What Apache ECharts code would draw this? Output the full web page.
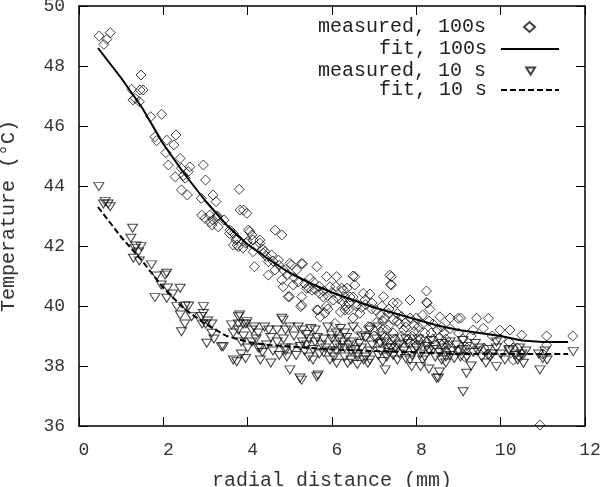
<!DOCTYPE html>
<html>
<head>
<meta charset="utf-8">
<script src="https://cdn.jsdelivr.net/npm/echarts@6/dist/echarts.min.js"></script>
<style>html,body{margin:0;padding:0;background:#fff}#c{width:602px;height:487px}</style>
</head>
<body>
<div id="c"></div>
<script>
// ---- data ----
const xTicks = [0, 2, 4, 6, 8, 10, 12];
const yTicks = [36, 38, 40, 42, 44, 46, 48, 50];
const seriesNames = ['measured, 100s', 'fit, 100s', 'measured, 10 s', 'fit, 10 s'];

const measured100s = [
[0.48,49.0],[0.59,48.72],[0.66,48.89],[0.74,49.11],
[1.47,47.7],[1.25,47.22],[1.33,46.92],[1.45,47.2],[1.52,47.2],[1.43,46.81],[1.28,46.87],
[1.70,46.31],[1.96,46.39],[1.80,45.64],[1.84,45.51],[2.08,45.53],[2.30,45.7],[2.25,45.37],[2.06,45.11],[2.12,44.7],[2.28,44.31],[2.40,44.92],[2.43,44.59],[2.63,44.64],[2.59,44.48],[2.48,44.35],[2.43,43.87],[2.57,43.7],[2.52,44.26],
[2.95,44.7],[3.0,44.2],[2.90,43.59],[3.18,43.7],[3.25,43.48],[2.91,43.03],[2.99,42.92],[3.1,43.03],[3.18,42.87],[3.27,42.98],[3.15,42.7],[3.30,42.64],[3.44,42.87],[3.58,42.53],[3.11,42.81],[3.28,43.0],[3.57,42.42],
[3.80,43.89],[3.82,43.2],[3.98,43.09],[3.90,43.2],[3.66,42.42],[3.74,42.26],[4.02,42.53],[4.10,42.37],[4.13,42.2],[4.29,42.09],[4.65,42.53],[4.81,42.37],[3.75,42.03],[3.89,41.93],[3.66,42.03],[3.78,41.98],[3.72,42.2],[4.05,42.48],[3.96,42.09],[4.29,42.2],[3.99,42.14],
[4.13,41.81],[4.16,41.31],[4.37,41.76],[4.49,41.48],[4.41,41.81],[4.57,41.7],[4.49,41.03],[4.65,41.2],[4.73,41.53],[4.81,40.87],[4.84,40.64],[4.96,40.31],[5.04,41.37],[5.16,41.2],[5.30,41.4],[5.08,40.7],[5.28,40.31],[5.28,40.03],[5.40,40.59],[5.48,40.92],[5.56,40.8],[5.64,41.31],[5.64,39.87],[5.72,39.64],[5.79,40.31],[5.87,40.0],[5.95,40.64],[6.07,39.42],[6.11,40.98],[6.23,40.6],[6.30,40.3],[6.33,40.0],
[5.00,41.42],[5.28,41.42],[4.99,40.31],[5.26,39.98],[5.52,40.53],[5.71,40.42],[5.67,39.87],[5.83,39.76],[5.87,40.98],[6.09,40.65],[6.03,40.2],[6.27,40.53],[6.43,40.3],[6.54,40.98],[6.54,40.7],[6.39,39.87],[6.58,40.0],[6.66,39.76],[6.78,40.2],[6.86,39.31],[6.94,39.9],[7.22,40.31],[7.18,40.0],[7.41,40.98],[7.41,40.7],[7.45,40.1],[7.34,39.76],
[6.50,41.0],[6.36,40.6],[6.31,39.87],[6.74,40.42],[6.90,40.4],[7.37,41.03],[7.39,40.72],[7.55,40.1],[7.85,40.2],[8.24,40.5],[8.24,40.12],[8.26,40.1],[8.32,39.89],[8.56,39.64],[8.80,39.6],[8.99,39.59],[9.05,39.6],[9.43,39.59],[9.71,39.59],[9.35,39.2],[9.59,39.26],[9.98,39.2],[10.22,39.2],[10.50,39.03],[11.09,39.0],[11.09,38.7],[11.71,39.0],[10.93,36.03],[10.30,38.6],[10.46,38.31],[9.60,38.6],[9.20,38.6],[9.15,38.31],[8.70,38.9],[8.30,39.5],[8.20,39.1],[7.55,39.5],[7.70,39.2],[8.00,39.6],
[6.9,39.3],[7.0,39.0],[7.1,38.8],[7.2,39.5],[7.3,39.2],[7.4,38.7],[7.5,38.9],[7.6,39.4],[7.7,38.6],[7.8,38.9],[7.9,39.0],[8.0,38.7],[8.1,38.9],[8.3,38.6],[8.4,38.9],[8.5,39.2],[8.6,38.7],[8.7,38.5],[6.5,39.6],[6.6,39.2],[6.8,39.0],[5.9,39.9],[6.2,39.8],
[9.0,38.5],[9.1,38.9],[10.4,38.6],[10.5,38.4],[10.2,38.8],[9.7,38.4],[11.0,38.4],[10.3,38.2],
[4.2,42.0],[4.35,41.9],[4.45,41.65],[4.6,41.5],[4.75,41.35],[4.85,41.2],[4.95,41.05],[5.1,40.95],[5.2,40.8],[5.35,40.75],[5.45,40.6],[5.6,40.55],[5.7,40.65],[5.8,40.5],[5.9,40.35],[6.0,40.45],[6.15,40.25],[6.25,40.15],[6.4,40.1],[6.5,40.3],[6.6,40.05],[6.7,39.95],[6.8,40.05],[6.95,40.1],[7.05,39.85],[7.15,39.7],[7.25,39.6],[7.35,39.9],[7.45,39.55],[7.55,39.75],[7.65,39.65],[7.75,39.45],[7.85,39.6],[7.95,39.35],[8.05,39.3],[8.15,39.7],[8.4,39.4],[8.6,39.3],[8.8,39.25],[9.0,39.1],[9.3,39.0],[9.8,39.0],[10.0,38.9],
[7.05,39.45],[7.15,39.15],[7.25,38.95],[7.35,39.35],[7.45,39.1],[7.55,38.75],[7.65,39.0],[7.75,39.3],[7.85,38.8],[7.95,39.15],[8.05,38.85],[8.15,39.4],[8.25,38.8],[8.35,39.1],[8.45,38.7],[8.55,38.95],[8.65,39.1],[8.75,38.7]
];

const fit100s = [
[0.45,48.6],[1.0,47.6],[1.5,46.6],[2.0,45.4],[2.5,44.4],[3.0,43.5],[3.5,42.7],[4.0,42.05],[4.5,41.55],[5.0,41.1],[5.5,40.75],[6.0,40.45],[6.5,40.2],[7.0,39.95],[7.5,39.75],[8.0,39.55],[8.5,39.35],[9.0,39.2],[9.5,39.1],[10.0,39.0],[10.5,38.85],[11.0,38.8],[11.6,38.8]
];

const measured10s = [
[0.47,43.98],[0.62,43.48],[0.58,43.4],[0.74,43.31],[0.69,43.4],
[1.27,42.59],[1.23,42.26],[1.33,41.92],[1.47,41.98],[1.41,41.8],[1.29,41.59],[1.43,41.5],[1.35,42.0],
[1.72,41.37],[2.08,41.09],[1.84,41.0],[2.04,41.03],[1.95,40.7],[2.10,40.6],[2.40,40.59],[1.80,40.28],[2.08,40.26],[2.22,40.4],[2.32,39.98],[2.52,40.0],[2.40,39.7],[2.67,39.64],[2.51,39.4],[2.43,39.14],[2.60,40.0],
[2.95,39.98],[2.90,39.65],[2.92,39.4],[3.05,39.5],[3.15,39.4],[3.15,39.09],[3.03,38.76],[3.20,38.9],[3.42,38.64],[3.62,39.37],[3.78,39.64],[3.78,39.2],[3.85,38.8],[3.74,38.14],[3.85,38.4],[2.95,39.75],[3.0,39.4],[3.38,38.64],[3.78,39.4],[3.90,39.4],[3.66,38.2],[3.66,39.1],
[4.10,39.2],[4.25,39.1],[4.30,38.6],[4.81,39.59],[4.70,39.2],[5.00,39.3],[4.90,38.6],[4.93,38.3],[5.00,37.87],[5.28,37.53],[5.64,37.64],[5.30,39.2],[5.60,39.2],[5.40,38.7],[5.75,38.7],[6.10,39.1],[6.10,38.7],[6.30,39.1],
[3.81,39.7],[3.96,39.4],[3.98,39.48],[4.15,39.3],[3.90,39.0],[4.10,38.8],[4.25,38.6],[4.50,39.2],[4.55,38.95],[4.70,38.8],[4.90,39.2],[4.90,38.5],[5.10,39.0],[5.30,38.8],[5.35,38.5],[5.40,39.05],[5.60,38.8],[5.70,38.4],[5.80,38.9],[5.95,38.5],[5.95,38.2],[6.00,38.9],[6.20,38.6],[6.30,38.3],[6.35,38.95],[6.50,38.8],[6.60,38.4],[6.70,39.0],[6.75,38.2],[7.26,37.87],[7.30,38.6],[7.45,38.35],
[5.99,39.03],[6.37,38.09],[6.11,38.09],[6.60,38.05],[6.85,38.09],[7.89,37.98],[8.10,37.98],[8.30,37.9],[8.48,37.59],[8.55,37.8],[8.70,38.1],[9.11,37.14],[9.19,37.76],[9.30,38.0],[9.90,37.98],[10.54,38.09],[10.93,37.87],[11.10,38.2],[11.00,38.25],[11.72,38.48],[10.40,38.2],[10.50,38.4],[10.20,38.5],[9.80,38.4],[9.65,38.1],[9.90,38.6],[9.20,38.3],[9.50,38.6],[9.00,38.5],[9.20,38.65],[8.85,38.5],[8.70,38.3],[8.45,38.3],[8.30,38.5],[8.10,38.4],[8.10,38.7],[7.95,38.5],[7.85,38.2],[7.60,38.4],[7.60,38.7],[7.40,38.6],[7.30,38.3],[7.15,38.5],[7.15,38.75],[6.90,38.5],[6.70,38.6],[6.60,38.3],[6.45,38.5],[6.30,38.6],[6.10,38.5],
[7.05,38.9],[7.20,39.0],[6.80,38.95],[7.45,38.9],[7.75,38.9],[8.05,38.9],[8.35,38.85],[8.60,38.75],[8.80,38.8],[9.10,38.85],[9.40,38.75],[9.90,38.8],[10.20,38.55],[10.45,38.6],[10.90,38.4],[5.67,37.7],[5.24,37.6],[8.52,37.6],
[4.84,39.53],[4.40,39.3],[5.20,39.3],[5.50,39.25],[5.90,39.3],[6.20,39.25],[6.50,39.3],[6.90,39.2],[7.10,39.3],[4.55,38.1],[4.30,38.2],[3.95,38.25],
[4.0,38.6],[4.2,38.9],[4.35,38.45],[4.45,38.7],[4.6,38.5],[4.75,38.35],[4.85,38.9],[5.05,38.6],[5.15,38.35],[5.25,38.65],[5.45,38.3],[5.55,38.55],[5.65,38.95],[5.85,38.6],[6.05,38.3],[6.25,38.8],[6.4,38.7],[6.55,38.55],[6.65,38.75],[6.8,38.3],[6.95,38.7],[7.1,38.35],[7.25,38.8],[7.35,38.45],[7.5,38.6],[7.7,38.5],[7.8,38.75],[7.9,38.35],[8.0,38.6],[8.2,38.3],[8.25,38.65],[8.4,38.55],[8.55,38.45],[8.65,38.6],[8.8,38.35],[8.95,38.7],[9.05,38.3],[9.35,38.45],[9.55,38.3],[9.7,38.55],[10.0,38.4],[10.1,38.2],[10.35,38.35],[10.6,38.5],[11.05,38.5],
[5.45,38.9],[5.55,38.2],[5.8,38.45],[6.15,38.9],[6.45,38.2],[6.9,38.2],[7.2,38.15],[7.55,38.2],[7.75,38.25],[8.15,38.2],[8.6,38.2],[8.9,38.25],[9.1,38.55],[9.45,38.5],[9.75,38.3]
];

const fit10s = [
[0.45,43.3],[1.0,42.3],[1.5,41.5],[2.0,40.6],[2.5,39.9],[3.0,39.4],[3.5,39.0],[4.0,38.8],[4.5,38.7],[5.0,38.65],[6.0,38.55],[7.0,38.5],[8.0,38.45],[9.0,38.4],[10.0,38.4],[11.6,38.4]
];

// ---- chart ----
const FONT = 'Liberation Mono';
const chart = echarts.init(document.getElementById('c'), null, {renderer: 'canvas'});
const axisLine = {show: true, onZero: false, lineStyle: {color: '#000', width: 1.5}};
const axisTick = {show: true, inside: true, length: 9, lineStyle: {color: '#000', width: 1}};
const xMin = xTicks[0], xMax = xTicks[xTicks.length - 1], xInt = xTicks[1] - xTicks[0];
const yMin = yTicks[0], yMax = yTicks[yTicks.length - 1], yInt = yTicks[1] - yTicks[0];
const legendText = {fontFamily: FONT, fontSize: 20, lineHeight: 20, color: '#222'};
const downTriangle = 'path://M0,0 L10,0 L5,8 Z';

// symbol legends: small icon centred where the reference draws it
function symbolLegend(name, top, icon, w, h, gap) {
  return {
    data: [{name: name, icon: icon}], right: 66, top: top, orient: 'vertical', align: 'right',
    itemWidth: w, itemHeight: h, padding: 0, selectedMode: false,
    textStyle: Object.assign({padding: [0, gap, 0, 0]}, legendText)
  };
}
// line legends: long line sample, hide the default marker
function lineLegend(name, top) {
  return {
    data: [name], right: 42, top: top, orient: 'vertical', align: 'right',
    itemWidth: 58, itemHeight: 10, padding: 0, selectedMode: false,
    itemStyle: {opacity: 0},
    textStyle: Object.assign({padding: [0, 9, 0, 0]}, legendText)
  };
}

const hollow = {color: 'rgba(0,0,0,0)', borderColor: '#111', borderWidth: 1};

chart.setOption({
  animation: false,
  backgroundColor: '#fff',
  grid: {left: 79, right: 17, top: 6, bottom: 61, containLabel: false, outerBoundsMode: 'none'},
  legend: [
    symbolLegend(seriesNames[0], 17, 'diamond', 11, 10, 33),
    lineLegend(seriesNames[1], 39),
    symbolLegend(seriesNames[2], 61, downTriangle, 9, 7, 35),
    lineLegend(seriesNames[3], 80)
  ],
  xAxis: [
    {type: 'value', min: xMin, max: xMax, interval: xInt,
     name: 'radial distance (mm)', nameLocation: 'middle', nameGap: 45,
     nameTextStyle: {fontFamily: FONT, fontSize: 20, color: '#333'},
     axisLine: axisLine, axisTick: axisTick, splitLine: {show: false},
     axisLabel: {fontFamily: FONT, fontSize: 18, color: '#333', margin: 15, padding: [0, 0, 0, 10]}},
    {type: 'value', position: 'top', min: xMin, max: xMax, interval: xInt,
     axisLine: axisLine, axisTick: axisTick, splitLine: {show: false}, axisLabel: {show: false}}
  ],
  yAxis: [
    {type: 'value', min: yMin, max: yMax, interval: yInt,
     name: 'Temperature (°C)', nameLocation: 'middle', nameGap: 60, nameRotate: 90,
     nameTextStyle: {fontFamily: FONT, fontSize: 20, color: '#333'},
     axisLine: axisLine, axisTick: axisTick, splitLine: {show: false},
     axisLabel: {fontFamily: FONT, fontSize: 18, color: '#333', margin: 14}},
    {type: 'value', position: 'right', min: yMin, max: yMax, interval: yInt,
     axisLine: axisLine, axisTick: axisTick, splitLine: {show: false}, axisLabel: {show: false}}
  ],
  series: [
    {name: seriesNames[0], type: 'scatter', data: measured100s, symbol: 'diamond', symbolSize: 10,
     itemStyle: hollow, emphasis: {disabled: true}},
    {name: seriesNames[1], type: 'line', data: fit100s, symbol: 'none', showSymbol: false,
     lineStyle: {color: '#000', width: 2}, itemStyle: {color: '#000'}},
    {name: seriesNames[2], type: 'scatter', data: measured10s, symbol: 'triangle', symbolRotate: 180, symbolSize: [10, 8],
     itemStyle: hollow, emphasis: {disabled: true}},
    {name: seriesNames[3], type: 'line', data: fit10s, symbol: 'none', showSymbol: false,
     lineStyle: {color: '#000', width: 2, type: [6, 3]}, itemStyle: {color: '#000'}}
  ]
});
</script>
</body>
</html>
